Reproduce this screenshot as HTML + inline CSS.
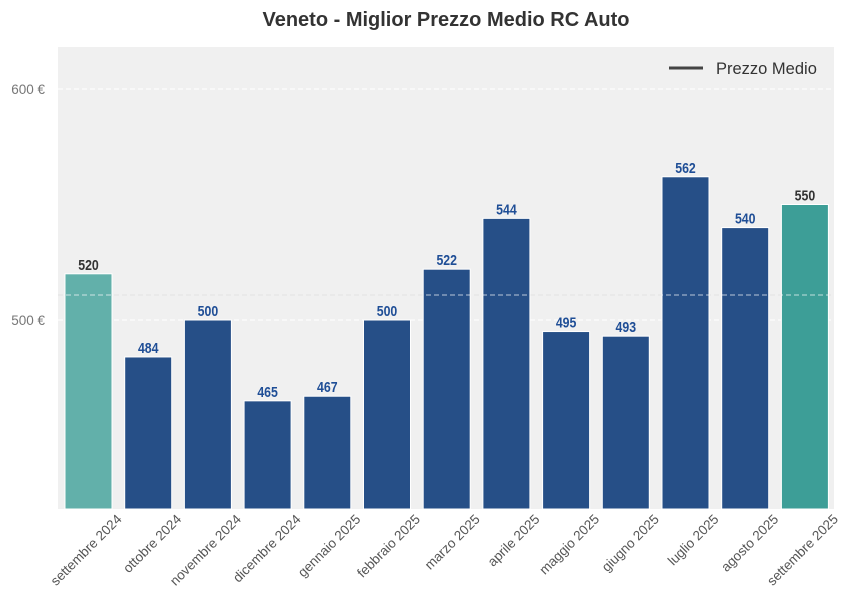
<!DOCTYPE html>
<html><head><meta charset="utf-8"><style>
html,body{margin:0;padding:0;background:#fff;}
svg{display:block;font-family:"Liberation Sans",sans-serif;}
.v{font-weight:bold;font-size:14.5px;text-anchor:middle;}
.x{font-size:13.5px;fill:#555;text-anchor:end;}
</style></head><body>
<svg width="852" height="610" viewBox="0 0 852 610">
<text x="446" y="26" text-anchor="middle" font-size="20" font-weight="bold" fill="#333">Veneto - Miglior Prezzo Medio RC Auto</text>
<rect x="58" y="47" width="776" height="462" fill="#f0f0f0"/>
<line x1="58" y1="89" x2="834" y2="89" stroke="#fff" stroke-dasharray="5,3"/>
<line x1="58" y1="320" x2="834" y2="320" stroke="#fff" stroke-dasharray="5,3"/>
<text x="45" y="94" text-anchor="end" font-size="13.5" fill="#777">600 €</text>
<text x="45" y="325" text-anchor="end" font-size="13.5" fill="#777">500 €</text>
<line x1="58" y1="295" x2="834" y2="295" stroke="#ccc" stroke-width="1.2" stroke-dasharray="5,3"/>
<g id="bars"></g>
<line x1="58" y1="295" x2="834" y2="295" stroke="#fff" stroke-opacity="0.55" stroke-width="1.2" stroke-dasharray="5,3"/>
<line x1="669" y1="68" x2="703" y2="68" stroke="#444" stroke-width="3"/>
<text x="716" y="74" font-size="16.5" fill="#333">Prezzo Medio</text>
</svg>
<script>
var d=[520,484,500,465,467,500,522,544,495,493,562,540,550];
var m=["settembre 2024","ottobre 2024","novembre 2024","dicembre 2024","gennaio 2025","febbraio 2025","marzo 2025","aprile 2025","maggio 2025","giugno 2025","luglio 2025","agosto 2025","settembre 2025"];
var s="";
for(var i=0;i<13;i++){var c=88.5+i*59.7,y=320-(d[i]-500)*2.31;
var col=i==0?"#62b0aa":(i==12?"#3d9e97":"#264f87");
var tc=(i==0||i==12)?"#333":"#1f4e96";
s+='<rect x="'+(c-23.5)+'" y="'+y+'" width="47" height="'+(509-y)+'" fill="'+col+'" stroke="#fff" stroke-width="1"/>';
s+='<text class="v" transform="translate('+c+','+(y-4)+') scale(0.85,1)" fill="'+tc+'">'+d[i]+'</text>';
s+='<text class="x" transform="translate('+(c+34)+',520) rotate(-45)">'+m[i]+'</text>';}
document.getElementById("bars").innerHTML=s;
</script>
</body></html>
